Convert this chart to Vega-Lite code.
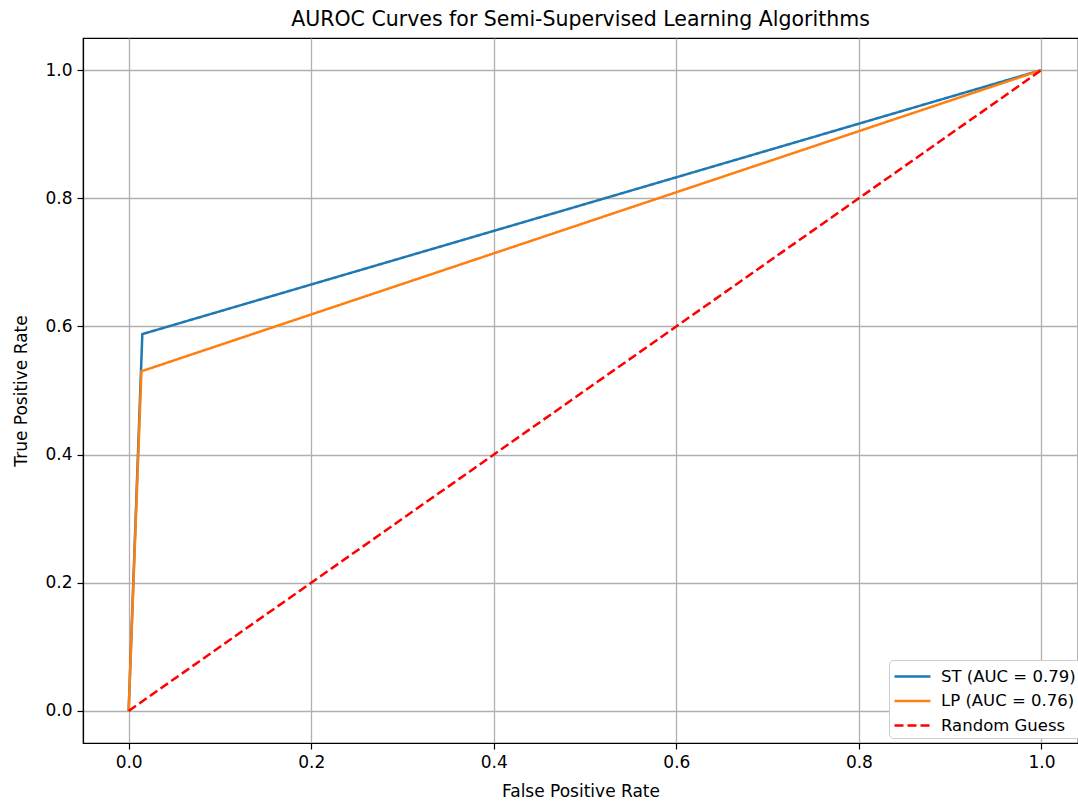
{
  "$schema": "https://vega.github.io/schema/vega-lite/v6.json",
  "autosize": {"type": "none"},
  "padding": {"left": 83, "top": 38, "right": 0, "bottom": 61},
  "width": 995,
  "height": 705,
  "background": "white",
  "config": {
    "font": "DejaVu Sans",
    "view": {"stroke": "black", "strokeWidth": 1.2},
    "axis": {
      "labelFont": "DejaVu Sans",
      "titleFont": "DejaVu Sans",
      "labelFontSize": 17,
      "titleFontSize": 17,
      "titleFontWeight": "normal",
      "labelColor": "black",
      "titleColor": "black",
      "domainColor": "black",
      "domainWidth": 1.2,
      "tickColor": "black",
      "tickSize": 6,
      "tickWidth": 1.2,
      "gridColor": "#b0b0b0",
      "gridWidth": 1.3,
      "gridOpacity": 1,
      "labelPadding": 5
    }
  },
  "title": {
    "text": "AUROC Curves for Semi-Supervised Learning Algorithms",
    "font": "DejaVu Sans",
    "fontSize": 20.5,
    "fontWeight": "normal",
    "color": "black",
    "anchor": "middle",
    "offset": 8
  },
  "data": {
    "values": [
      {"series": "ST (AUC = 0.79)", "fpr": 0.0, "tpr": 0.0, "o": 0},
      {"series": "ST (AUC = 0.79)", "fpr": 0.015, "tpr": 0.588, "o": 1},
      {"series": "ST (AUC = 0.79)", "fpr": 1.0, "tpr": 1.0, "o": 2},
      {"series": "LP (AUC = 0.76)", "fpr": 0.0, "tpr": 0.0, "o": 0},
      {"series": "LP (AUC = 0.76)", "fpr": 0.014, "tpr": 0.53, "o": 1},
      {"series": "LP (AUC = 0.76)", "fpr": 1.0, "tpr": 1.0, "o": 2},
      {"series": "Random Guess", "fpr": 0.0, "tpr": 0.0, "o": 0},
      {"series": "Random Guess", "fpr": 1.0, "tpr": 1.0, "o": 1}
    ]
  },
  "mark": {"type": "line", "strokeWidth": 2.5, "clip": true},
  "encoding": {
    "x": {
      "field": "fpr",
      "type": "quantitative",
      "title": "False Positive Rate",
      "scale": {"domain": [-0.05, 1.04], "nice": false, "zero": false},
      "axis": {"values": [0, 0.2, 0.4, 0.6, 0.8, 1.0], "format": ".1f", "titlePadding": 13}
    },
    "y": {
      "field": "tpr",
      "type": "quantitative",
      "title": "True Positive Rate",
      "scale": {"domain": [-0.05, 1.05], "nice": false, "zero": false},
      "axis": {"values": [0, 0.2, 0.4, 0.6, 0.8, 1.0], "format": ".1f", "titlePadding": 14}
    },
    "order": {"field": "o"},
    "color": {
      "field": "series",
      "type": "nominal",
      "title": null,
      "scale": {
        "domain": ["ST (AUC = 0.79)", "LP (AUC = 0.76)", "Random Guess"],
        "range": ["#1f77b4", "#ff7f0e", "#ff0000"]
      },
      "legend": {
        "orient": "none",
        "legendX": 806,
        "legendY": 622,
        "symbolType": "M-1,0H2.27",
        "symbolSize": 484,
        "symbolStrokeWidth": 2.5,
        "labelFontSize": 16.5,
        "labelFont": "DejaVu Sans",
        "labelColor": "black",
        "fillColor": "white",
        "strokeColor": "#cccccc",
        "cornerRadius": 4,
        "padding": 4,
        "rowPadding": 3.5,
        "labelOffset": 23
      }
    },
    "strokeDash": {
      "field": "series",
      "type": "nominal",
      "title": null,
      "scale": {
        "domain": ["ST (AUC = 0.79)", "LP (AUC = 0.76)", "Random Guess"],
        "range": [[1, 0], [1, 0], [9, 4]]
      }
    }
  }
}
